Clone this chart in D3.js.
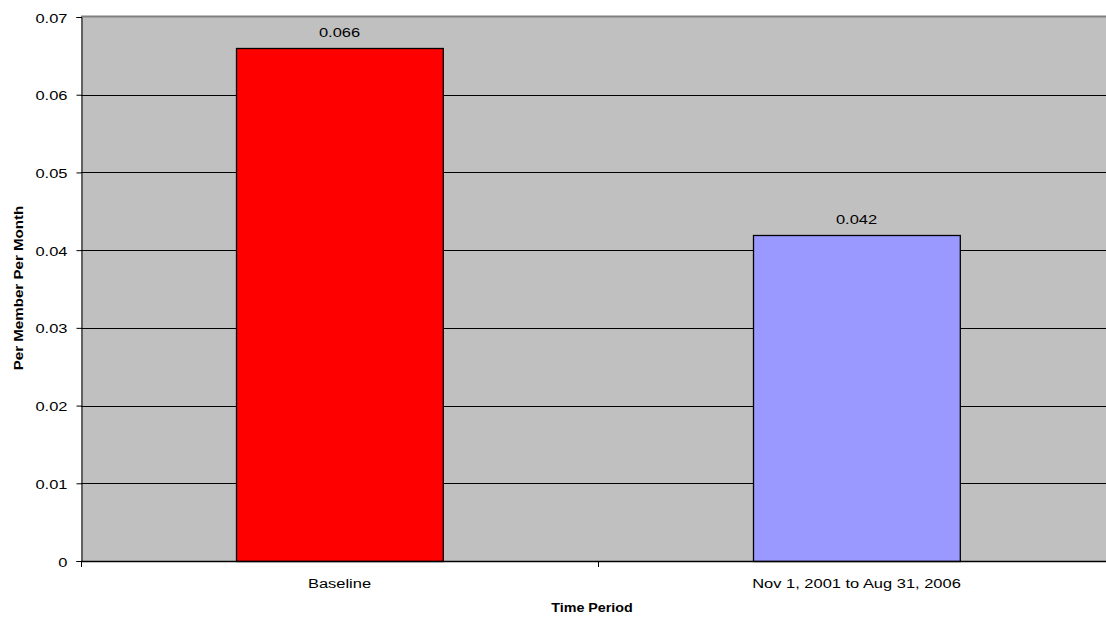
<!DOCTYPE html>
<html>
<head>
<meta charset="utf-8">
<script src="https://cdn.jsdelivr.net/npm/d3@7"></script>
<style>
  body { margin: 0; background: #fff; }
  svg { display: block; font-family: "Liberation Sans", Arial, sans-serif; }
</style>
</head>
<body>
<svg id="chart" width="1106" height="618"></svg>
<script>
// Chart data
const categories = ["Baseline", "Nov 1, 2001 to Aug 31, 2006"];
const values = [0.066, 0.042];
const barColors = ["#ff0000", "#9999ff"];
const yTicks = [0, 0.01, 0.02, 0.03, 0.04, 0.05, 0.06, 0.07];

const svg = d3.select("#chart");
const W = 1106, H = 618;
const x0 = 81, x1 = 1115;   // plot spills slightly past the right edge
const y0 = 561, y1 = 17;
const SX = 1.22;            // horizontal widening of the text glyphs

const x = d3.scaleBand().domain(categories).range([x0, x1]).paddingInner(0.6).paddingOuter(0.3);
const xEdges = d3.scaleLinear().domain([0, categories.length]).range([x0, x1]);
const y = d3.scaleLinear().domain([0, 0.07]).range([y0, y1]);

// Places a widened text element with its anchor at (px, py)
function placeText(sel, px, py, sx) {
  sel.attr("x", 0).attr("y", 0)
     .attr("transform", (d, i) => {
       const a = typeof px === "function" ? px(d, i) : px;
       const b = typeof py === "function" ? py(d, i) : py;
       return `translate(${a},${b}) scale(${sx},1)`;
     });
}

// Plot background
svg.append("rect")
  .attr("x", x0).attr("y", y1)
  .attr("width", x1 - x0).attr("height", y0 - y1)
  .attr("fill", "#c0c0c0");

// Top border
svg.append("line")
  .attr("x1", x0).attr("x2", x1)
  .attr("y1", y1 - 0.5).attr("y2", y1 - 0.5)
  .attr("stroke", "#808080").attr("stroke-width", 2);

// Horizontal gridlines
svg.append("g").selectAll("line")
  .data(yTicks.filter(t => t > 0 && t < 0.07))
  .join("line")
  .attr("x1", x0).attr("x2", x1)
  .attr("y1", d => Math.round(y(d)) + 0.5)
  .attr("y2", d => Math.round(y(d)) + 0.5)
  .attr("stroke", "#000").attr("stroke-width", 1);

// Bars
svg.append("g").selectAll("rect")
  .data(values)
  .join("rect")
  .attr("x", (d, i) => Math.round(x(categories[i])) + 0.5)
  .attr("y", d => Math.round(y(d)) + 0.5)
  .attr("width", x.bandwidth())
  .attr("height", d => Math.round(y0) - Math.round(y(d)))
  .attr("fill", (d, i) => barColors[i])
  .attr("stroke", "#000").attr("stroke-width", 1.3);

// Value labels
svg.append("g").selectAll("text")
  .data(values)
  .join("text")
  .attr("text-anchor", "middle")
  .attr("font-size", 13.5)
  .attr("fill", "#000")
  .text(d => d3.format(".3f")(d))
  .call(placeText, (d, i) => x(categories[i]) + x.bandwidth() / 2, d => y(d) - 11, SX);

// Y axis
const yAxis = d3.axisLeft(y)
  .tickValues(yTicks)
  .tickSize(5)
  .tickPadding(9)
  .tickFormat(d => d === 0 ? "0" : d3.format(".2f")(d));
const gy = svg.append("g")
  .attr("transform", `translate(${x0 + 0.5},0)`)
  .call(yAxis);
gy.select(".domain").attr("stroke", "#000");
gy.selectAll(".tick line").attr("stroke", "#000");
gy.selectAll("text")
  .attr("font-size", 13.5).attr("fill", "#000")
  .attr("font-family", "'Liberation Sans', Arial, sans-serif")
  .attr("dy", null)
  .call(placeText, -14, 5, SX);

// X axis baseline and category separators
svg.append("line")
  .attr("x1", x0).attr("x2", x1)
  .attr("y1", y0 + 0.5).attr("y2", y0 + 0.5)
  .attr("stroke", "#000").attr("stroke-width", 1.3);
svg.append("g").selectAll("line")
  .data(d3.range(categories.length + 1))
  .join("line")
  .attr("x1", d => Math.round(xEdges(d)) + 0.5)
  .attr("x2", d => Math.round(xEdges(d)) + 0.5)
  .attr("y1", y0)
  .attr("y2", y0 + 6)
  .attr("stroke", "#000");

// Category labels
svg.append("g").selectAll("text")
  .data(categories)
  .join("text")
  .attr("text-anchor", "middle")
  .attr("font-size", 13.5)
  .attr("fill", "#000")
  .text(d => d)
  .call(placeText, d => x(d) + x.bandwidth() / 2, y0 + 26.5, SX);

// Axis titles
svg.append("text")
  .attr("text-anchor", "middle")
  .attr("font-size", 13)
  .attr("font-weight", "bold")
  .text("Time Period")
  .call(placeText, 592, 612, 1.1);

svg.append("text")
  .attr("text-anchor", "middle")
  .attr("font-size", 13.5)
  .attr("font-weight", "bold")
  .attr("transform", `translate(23,288) rotate(-90) scale(1.12,1)`)
  .text("Per Member Per Month");
</script>
</body>
</html>
